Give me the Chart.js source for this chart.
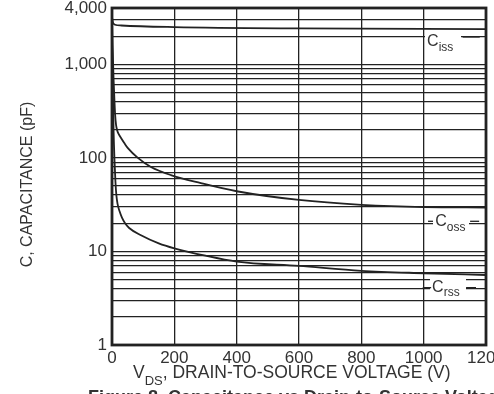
<!DOCTYPE html>
<html>
<head>
<meta charset="utf-8">
<script src="https://cdn.jsdelivr.net/npm/chart.js@4/dist/chart.umd.min.js"></script>
<style>
  html, body { margin: 0; padding: 0; background: #fff; }
  #wrap { width: 494px; height: 394px; position: relative; }
</style>
</head>
<body>
<div id="wrap"><canvas id="c"></canvas></div>
<script>
  // values
  const cissV  = [0, 3, 10, 30, 200, 600, 1200];
  const cissPf = [3200, 2800, 2650, 2600, 2500, 2420, 2380];

  const cossV  = [0, 2, 5, 8, 10, 13, 17, 22, 29, 40, 51, 83, 125, 189, 285, 400, 600, 800, 1000, 1200];
  const cossPf = [3000, 1500, 700, 400, 290, 225, 195, 178, 163, 143, 127, 100, 80, 65.5, 53.8, 44, 35.5, 31.5, 29.8, 29.5];

  const crssV  = [0, 2, 5, 8, 11, 14, 18, 24, 32, 42, 55, 93, 150, 200, 300, 400, 600, 800, 1000, 1200];
  const crssPf = [2000, 700, 200, 95, 56, 40, 32, 27, 23, 20, 17.8, 14.9, 12.2, 10.8, 9, 7.8, 7.0, 6.2, 5.85, 5.6];

  const xTicks = [0, 200, 400, 600, 800, 1000, 1200];
  const yGrid = [1, 2, 3, 4, 5, 6, 7, 8, 9, 10, 20, 30, 40, 50, 60, 70, 80, 90,
                 100, 200, 300, 400, 500, 600, 700, 800, 900, 1000, 2000, 3000, 4000];
  const yLabels = { 1: "1", 10: "10", 100: "100", 1000: "1,000", 4000: "4,000" };

  // curve name labels: [main, sub, V, pF, leaders [[v0, v1, pF]...]]
  const curveNames = [
    ["C", "iss", 1011, 1730, [[1125, 1180, 1960]]],
    ["C", "oss", 1037, 21,   [[1014, 1030, 21], [1149, 1178, 21]]],
    ["C", "rss", 1027, 4.15, [[997, 1024, 4.1], [1136, 1168, 4.1]]]
  ];

  const ink = "#222";
  const txt = "#333";
  const FONT = "Liberation Sans, Arial, sans-serif";

  function pts(xs, ys) { return xs.map(function (x, i) { return { x: x, y: ys[i] }; }); }

  function line(data) {
    return {
      data: data,
      showLine: true,
      borderColor: ink,
      borderWidth: 1.8,
      pointRadius: 0,
      cubicInterpolationMode: "monotone",
      fill: false
    };
  }

  const extras = {
    id: "extras",
    afterDatasetsDraw: function (chart) {
      const c = chart.ctx, xs = chart.scales.x, ys = chart.scales.y, a = chart.chartArea;
      c.save();
      // frame
      c.strokeStyle = ink;
      c.lineWidth = 2.8;
      c.strokeRect(a.left, a.top, a.right - a.left, a.bottom - a.top);

      // curve names with subscripts
      c.fillStyle = txt;
      c.strokeStyle = ink;
      c.lineWidth = 1.3;
      curveNames.forEach(function (n) {
        const px = xs.getPixelForValue(n[2]);
        const py = ys.getPixelForValue(n[3]);
        c.clearRect(px - 2, py - 9, 36, 20);
        c.font = "16px " + FONT;
        c.textBaseline = "middle";
        c.textAlign = "left";
        c.fillText(n[0], px, py);
        const w = c.measureText(n[0]).width;
        c.font = "12px " + FONT;
        c.fillText(n[1], px + w, py + 6);
        n[4].forEach(function (l) {
          const yy = ys.getPixelForValue(l[2]);
          c.beginPath();
          c.moveTo(xs.getPixelForValue(l[0]), yy);
          c.lineTo(xs.getPixelForValue(l[1]), yy);
          c.stroke();
        });
      });

      // axis titles
      c.font = "16px " + FONT;
      c.textAlign = "center";
      c.textBaseline = "middle";
      c.save();
      c.translate(28, (a.top + a.bottom) / 2 + 8);
      c.rotate(-Math.PI / 2);
      c.fillText("C, CAPACITANCE (pF)", 0, 0);
      c.restore();

      const main = ", DRAIN-TO-SOURCE VOLTAGE (V)";
      c.textAlign = "left";
      c.font = "17.5px " + FONT;
      const wV = c.measureText("V").width;
      c.font = "13px " + FONT;
      const wS = c.measureText("DS").width;
      let x0 = 133;
      const yT = 373;
      c.font = "17.5px " + FONT;
      c.fillText("V", x0, yT);
      c.font = "13px " + FONT;
      c.fillText("DS", x0 + wV, yT + 8);
      c.font = "17.5px " + FONT;
      c.fillText(main, x0 + wV + wS, yT);

      // figure caption (cut off by the page bottom)
      c.textBaseline = "alphabetic";
      c.font = "bold 18px " + FONT;
      c.fillText("Figure 8. Capacitance vs Drain-to-Source Voltage", 88, 403);
      c.restore();
    }
  };

  new Chart(document.getElementById("c"), {
    type: "scatter",
    data: {
      datasets: [
        line(pts(cissV, cissPf)),
        line(pts(cossV, cossPf)),
        line(pts(crssV, crssPf))
      ]
    },
    options: {
      responsive: true,
      maintainAspectRatio: false,
      animation: false,
      layout: { padding: { top: 8, right: 8, left: 0, bottom: 0 } },
      plugins: { legend: { display: false }, tooltip: { enabled: false } },
      scales: {
        x: {
          type: "linear",
          min: 0,
          max: 1200,
          afterBuildTicks: function (s) { s.ticks = xTicks.map(function (v) { return { value: v }; }); },
          afterFit: function (s) { s.height = 49; s.paddingLeft = 0; s.paddingRight = 0; },
          grid: { color: ink, lineWidth: 1.3, drawTicks: false },
          border: { display: false },
          ticks: {
            color: txt,
            padding: 3,
            maxRotation: 0,
            autoSkip: false,
            font: { family: FONT, size: 17 },
            callback: function (v) { return String(v); }
          }
        },
        y: {
          type: "logarithmic",
          min: 1,
          max: 4000,
          afterBuildTicks: function (s) { s.ticks = yGrid.map(function (v) { return { value: v }; }); },
          afterFit: function (s) { s.width = 112; s.paddingTop = 0; s.paddingBottom = 0; },
          grid: { color: ink, lineWidth: 1.3, drawTicks: false },
          border: { display: false },
          ticks: {
            color: txt,
            padding: 5,
            autoSkip: false,
            font: { family: FONT, size: 17 },
            callback: function (v) { return yLabels[v] || ""; }
          }
        }
      }
    },
    plugins: [extras]
  });
</script>
</body>
</html>
